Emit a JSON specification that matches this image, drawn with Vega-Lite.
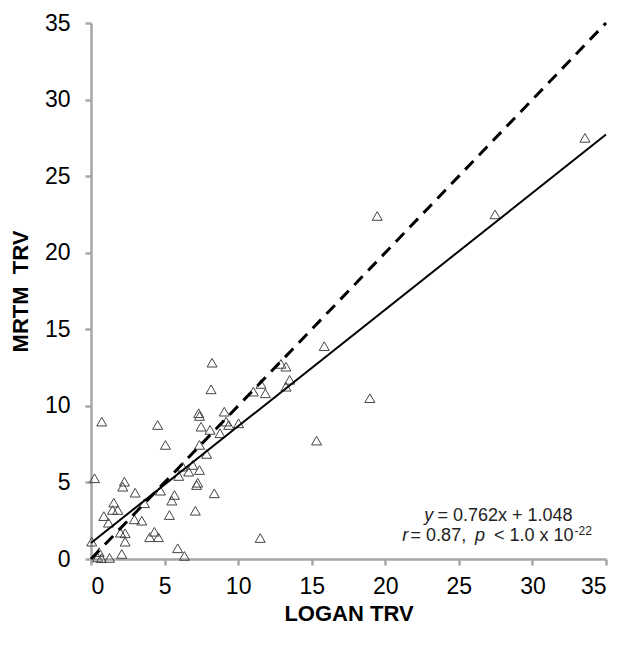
{
  "$schema": "https://vega.github.io/schema/vega-lite/v6.json",
  "width": 515,
  "height": 536,
  "autosize": {"type": "none"},
  "padding": {"left": 91, "top": 23, "right": 21, "bottom": 92},
  "background": "white",
  "config": {
    "view": {"stroke": null},
    "font": "Liberation Sans",
    "axis": {
      "grid": false,
      "domainColor": "#a6a6a6",
      "domainWidth": 2.5,
      "tickColor": "#a6a6a6",
      "tickWidth": 2.5,
      "tickSize": 6,
      "labelFont": "Liberation Sans",
      "labelFontSize": 23,
      "labelColor": "#000000",
      "titleFont": "Liberation Sans",
      "titleFontSize": 22,
      "titleFontWeight": "bold",
      "titleColor": "#000000"
    }
  },
  "datasets": {
    "pts": [
      {"logan": 0.24, "mrtm": 5.27},
      {"logan": 0.73, "mrtm": 8.97},
      {"logan": 0.05, "mrtm": 1.13},
      {"logan": 0.45, "mrtm": 0.1},
      {"logan": 0.55, "mrtm": 0.45},
      {"logan": 0.7, "mrtm": 0.05},
      {"logan": 1.26, "mrtm": 0.07},
      {"logan": 2.09, "mrtm": 0.33},
      {"logan": 2.0, "mrtm": 1.72},
      {"logan": 2.32, "mrtm": 1.13},
      {"logan": 2.32, "mrtm": 1.68},
      {"logan": 1.19, "mrtm": 2.37},
      {"logan": 0.87, "mrtm": 2.8},
      {"logan": 1.46, "mrtm": 3.2},
      {"logan": 1.82, "mrtm": 3.2},
      {"logan": 1.55, "mrtm": 3.68},
      {"logan": 2.16, "mrtm": 4.72},
      {"logan": 2.27, "mrtm": 5.05},
      {"logan": 3.0, "mrtm": 4.33},
      {"logan": 2.95, "mrtm": 2.59},
      {"logan": 3.45, "mrtm": 2.5},
      {"logan": 3.63, "mrtm": 3.64},
      {"logan": 3.99, "mrtm": 1.42},
      {"logan": 4.31, "mrtm": 1.78},
      {"logan": 4.58, "mrtm": 1.42},
      {"logan": 4.72, "mrtm": 4.46},
      {"logan": 5.49, "mrtm": 3.81},
      {"logan": 5.67, "mrtm": 4.18},
      {"logan": 5.33, "mrtm": 2.87},
      {"logan": 5.89, "mrtm": 0.7},
      {"logan": 6.35, "mrtm": 0.2},
      {"logan": 7.18, "mrtm": 4.83},
      {"logan": 8.38, "mrtm": 4.29},
      {"logan": 7.09, "mrtm": 3.15},
      {"logan": 4.53, "mrtm": 8.75},
      {"logan": 5.06, "mrtm": 7.45},
      {"logan": 6.23, "mrtm": 6.03},
      {"logan": 7.32, "mrtm": 9.52},
      {"logan": 7.37, "mrtm": 9.34},
      {"logan": 9.06, "mrtm": 9.62},
      {"logan": 7.48, "mrtm": 8.64},
      {"logan": 8.09, "mrtm": 8.43},
      {"logan": 9.18, "mrtm": 8.97},
      {"logan": 9.36, "mrtm": 8.75},
      {"logan": 8.77, "mrtm": 8.21},
      {"logan": 10.03, "mrtm": 8.86},
      {"logan": 7.37, "mrtm": 7.45},
      {"logan": 7.86, "mrtm": 6.86},
      {"logan": 6.91, "mrtm": 6.14},
      {"logan": 7.37, "mrtm": 5.81},
      {"logan": 6.64, "mrtm": 5.7},
      {"logan": 5.96, "mrtm": 5.42},
      {"logan": 7.25, "mrtm": 4.98},
      {"logan": 8.23, "mrtm": 12.82},
      {"logan": 8.16, "mrtm": 11.08},
      {"logan": 12.91, "mrtm": 12.74},
      {"logan": 13.25, "mrtm": 12.56},
      {"logan": 11.55, "mrtm": 11.43},
      {"logan": 11.03, "mrtm": 10.93},
      {"logan": 11.85, "mrtm": 10.82},
      {"logan": 13.25, "mrtm": 11.25},
      {"logan": 13.5, "mrtm": 11.7},
      {"logan": 15.33, "mrtm": 7.73},
      {"logan": 18.95, "mrtm": 10.5},
      {"logan": 19.45, "mrtm": 22.4},
      {"logan": 27.46, "mrtm": 22.5},
      {"logan": 33.57, "mrtm": 27.5},
      {"logan": 15.85, "mrtm": 13.9},
      {"logan": 11.5, "mrtm": 1.37}
    ],
    "fit": [
      {"logan": 0, "mrtm": 1.048},
      {"logan": 35, "mrtm": 27.718}
    ],
    "identity": [
      {"logan": 0, "mrtm": 0},
      {"logan": 35, "mrtm": 35}
    ],
    "one": [{}]
  },
  "layer": [
    {
      "data": {"name": "pts"},
      "mark": {"type": "point", "shape": "triangle-up", "filled": false, "stroke": "#444444", "strokeWidth": 1, "size": 100, "opacity": 1},
      "encoding": {
        "x": {"field": "logan", "type": "quantitative", "scale": {"domain": [0, 35], "nice": false},
              "axis": {"values": [0, 5, 10, 15, 20, 25, 30, 35], "title": "LOGAN TRV", "labelPadding": 10, "titlePadding": 5}},
        "y": {"field": "mrtm", "type": "quantitative", "scale": {"domain": [0, 35], "nice": false},
              "axis": {"values": [0, 5, 10, 15, 20, 25, 30, 35], "title": "MRTM\u00a0 TRV", "labelPadding": 15, "titlePadding": 12}}
      }
    },
    {
      "data": {"name": "identity"},
      "mark": {"type": "line", "color": "#000000", "strokeWidth": 3, "strokeDash": [12, 8]},
      "encoding": {
        "x": {"field": "logan", "type": "quantitative"},
        "y": {"field": "mrtm", "type": "quantitative"}
      }
    },
    {
      "data": {"name": "fit"},
      "mark": {"type": "line", "color": "#000000", "strokeWidth": 2},
      "encoding": {
        "x": {"field": "logan", "type": "quantitative"},
        "y": {"field": "mrtm", "type": "quantitative"}
      }
    },
    {
      "data": {"name": "one"},
      "mark": {"type": "text", "text": "y", "fontStyle": "italic", "fontSize": 18, "align": "left", "baseline": "middle", "color": "#222222"},
      "encoding": {"x": {"datum": 22.64}, "y": {"datum": 2.8}}
    },
    {
      "data": {"name": "one"},
      "mark": {"type": "text", "text": "= 0.762x + 1.048", "fontSize": 18, "align": "left", "baseline": "middle", "color": "#222222"},
      "encoding": {"x": {"datum": 23.55}, "y": {"datum": 2.8}}
    },
    {
      "data": {"name": "one"},
      "mark": {"type": "text", "text": "r", "fontStyle": "italic", "fontSize": 18, "align": "left", "baseline": "middle", "color": "#222222"},
      "encoding": {"x": {"datum": 21.15}, "y": {"datum": 1.48}}
    },
    {
      "data": {"name": "one"},
      "mark": {"type": "text", "text": "= 0.87,", "fontSize": 18, "align": "left", "baseline": "middle", "color": "#222222"},
      "encoding": {"x": {"datum": 21.72}, "y": {"datum": 1.48}}
    },
    {
      "data": {"name": "one"},
      "mark": {"type": "text", "text": "p", "fontStyle": "italic", "fontSize": 18, "align": "left", "baseline": "middle", "color": "#222222"},
      "encoding": {"x": {"datum": 26.1}, "y": {"datum": 1.48}}
    },
    {
      "data": {"name": "one"},
      "mark": {"type": "text", "text": "< 1.0 x 10", "fontSize": 18, "align": "right", "baseline": "middle", "color": "#222222"},
      "encoding": {"x": {"datum": 32.8}, "y": {"datum": 1.48}}
    },
    {
      "data": {"name": "one"},
      "mark": {"type": "text", "text": "-22", "fontSize": 12, "align": "left", "baseline": "middle", "color": "#222222"},
      "encoding": {"x": {"datum": 32.86}, "y": {"datum": 1.85}}
    }
  ]
}
